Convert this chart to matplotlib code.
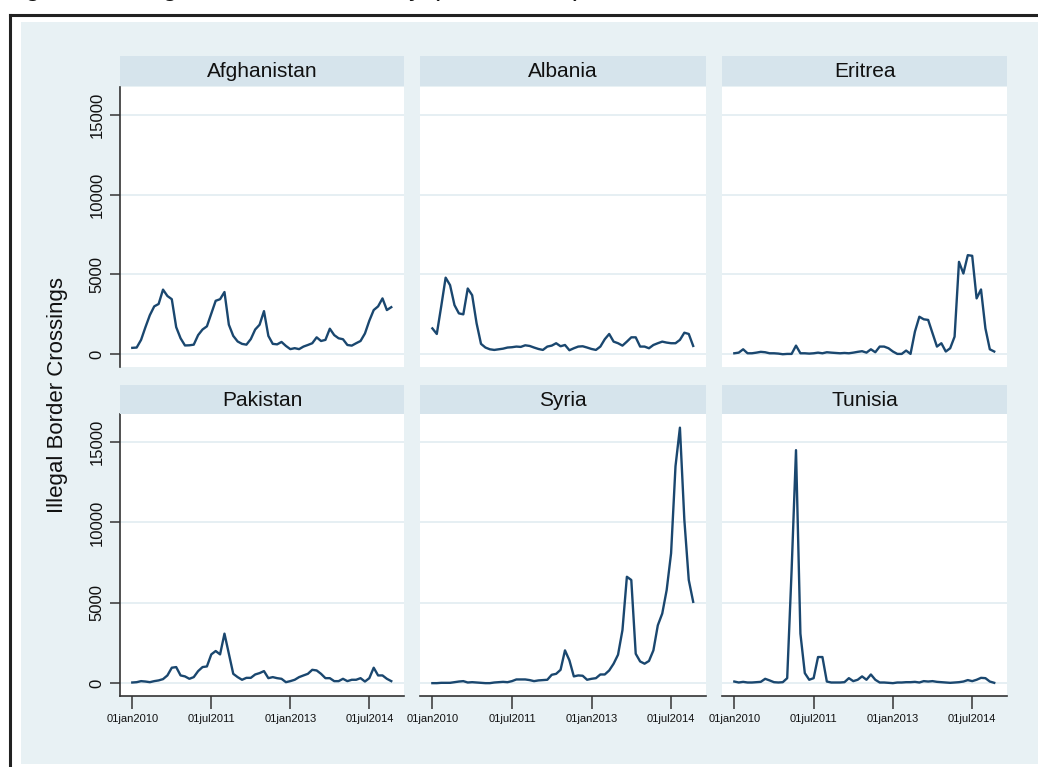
import matplotlib.pyplot as plt
from matplotlib.patches import Rectangle
from matplotlib.lines import Line2D

plt.rcParams['font.family'] = ['Liberation Sans', 'DejaVu Sans']

# monthly illegal border crossings, jan 2010 .. dec 2014
countries = ["Afghanistan", "Albania", "Eritrea", "Pakistan", "Syria", "Tunisia"]

afghanistan = [400, 420, 900, 1700, 2450, 3000, 3150, 4050, 3650, 3450,
               1700, 1000, 550, 560, 600, 1200, 1550, 1750, 2550, 3350,
               3450, 3900, 1850, 1150, 800, 650, 600, 950, 1550, 1850,
               2700, 1150, 650, 620, 770, 520, 320, 380, 320, 480,
               580, 690, 1060, 830, 900, 1600, 1200, 1000, 940, 580,
               540, 690, 830, 1300, 2100, 2770, 3000, 3500, 2770, 2950]
albania = [1620, 1270, 3000, 4800, 4330, 3080, 2560, 2500, 4120, 3700,
           1940, 650, 420, 310, 270, 310, 350, 420, 440, 480,
           460, 560, 520, 420, 330, 270, 480, 540, 690, 500,
           580, 250, 375, 480, 500, 420, 330, 270, 480, 940,
           1270, 790, 690, 540, 790, 1060, 1060, 480, 480, 375,
           580, 690, 790, 730, 690, 690, 900, 1350, 1270, 520]
eritrea = [60, 100, 310, 60, 60, 100, 150, 125, 60, 60,
           40, 0, 20, 20, 540, 60, 60, 40, 60, 100,
           60, 125, 100, 80, 60, 80, 60, 100, 150, 190,
           100, 310, 125, 480, 480, 375, 170, 20, 20, 230,
           20, 1420, 2350, 2190, 2150, 1310, 480, 690, 170, 375,
           1100, 5790, 5060, 6210, 6170, 3500, 4060, 1620, 310, 170]
pakistan = [40, 60, 125, 100, 60, 125, 170, 250, 480, 960,
            1000, 480, 420, 270, 375, 750, 1000, 1040, 1790, 2000,
            1790, 3080, 1830, 580, 375, 210, 330, 330, 540, 625,
            750, 310, 375, 310, 270, 60, 125, 210, 375, 480,
            580, 830, 790, 580, 310, 310, 125, 125, 270, 125,
            210, 210, 310, 100, 310, 960, 480, 480, 270, 125]
syria = [0, 0, 20, 20, 20, 60, 100, 125, 40, 60,
         40, 20, 0, 0, 40, 60, 80, 60, 125, 230,
         230, 230, 190, 125, 170, 190, 210, 520, 580, 830,
         2040, 1420, 420, 480, 460, 210, 270, 310, 540, 540,
         790, 1210, 1770, 3300, 6620, 6420, 1830, 1350, 1210, 1380,
         2040, 3600, 4330, 5790, 8080, 13500, 15900, 10170, 6420, 5060]
tunisia = [100, 40, 80, 40, 40, 60, 80, 270, 170, 60,
           40, 60, 310, 7000, 14500, 3080, 625, 210, 310, 1625,
           1625, 100, 40, 40, 40, 60, 310, 125, 210, 420,
           210, 540, 210, 40, 40, 20, 0, 40, 40, 60,
           60, 80, 40, 125, 100, 125, 80, 60, 40, 20,
           40, 60, 100, 190, 125, 210, 330, 310, 100, 20]

series = [afghanistan, albania, eritrea, pakistan, syria, tunisia]
months = list(range(len(afghanistan)))

tick_months = [0, 18, 36, 54]
tick_labels = ["01jan2010", "01jul2011", "01jan2013", "01jul2014"]
y_ticks = [0, 5000, 10000, 15000]

W, H = 1038, 767
BG = '#e8f1f4'
STRIP = '#d6e4ec'
GRID = '#e2ecf1'
LINE = '#1a476f'

fig = plt.figure(figsize=(W / 100, H / 100), dpi=100)
fig.patch.set_facecolor('white')


def box(x0, y0, x1, y1):
    # pixel box (top-left origin) -> figure fraction rect
    return [x0 / W, 1 - y1 / H, (x1 - x0) / W, (y1 - y0) / H]


# light blue graph region + black frame (cropped page)
r = box(21, 22, W, 764)
fig.add_artist(Rectangle((r[0], r[1]), r[2], r[3], transform=fig.transFigure,
                         facecolor=BG, edgecolor='none', zorder=0))
fig.add_artist(Line2D([10 / W, 10 / W], [0, 1 - 15 / H], transform=fig.transFigure,
                      color='#222222', lw=2.2))
fig.add_artist(Line2D([10 / W, 1], [1 - 15 / H, 1 - 15 / H], transform=fig.transFigure,
                      color='#222222', lw=2.2))

# caption of the page, cropped: only the lowest part shows at the top edge
fig.text(2 / W, 1 + 5 / H, "Figure 2   Illegal Entries, Quarterly (2010-2014)",
         fontsize=20, va='baseline', ha='left', color='#111111')

cols = [(120, 404), (420, 706), (722, 1007)]
rows = [(87, 367), (414, 696)]
strips = [(56, 86), (385, 414)]

for i, (name, vals) in enumerate(zip(countries, series)):
    ri, ci = divmod(i, 3)
    x0, x1 = cols[ci]
    y0, y1 = rows[ri]
    ax = fig.add_axes(box(x0, y0, x1, y1))
    ax.set_facecolor('white')

    # header strip
    s = box(x0, strips[ri][0], x1, strips[ri][1])
    fig.add_artist(Rectangle((s[0], s[1]), s[2], s[3], transform=fig.transFigure,
                             facecolor=STRIP, edgecolor='none', zorder=1))
    fig.text(s[0] + s[2] / 2, s[1] + s[3] / 2 - 1 / H, name, ha='center', va='center',
             fontsize=15, color='#111111')

    for yt in y_ticks:
        ax.axhline(yt, color=GRID, lw=1.2, zorder=1)
    ax.plot(months, vals, color=LINE, lw=1.7, zorder=3)

    ax.set_xlim(-2.8, 61.9)
    ax.set_ylim(-800, 16750)

    for sp in ax.spines.values():
        sp.set_visible(False)

    if ci == 0:
        ax.spines['left'].set_visible(True)
        ax.spines['left'].set_color('#333333')
        ax.spines['left'].set_linewidth(1.2)
        ax.set_yticks(y_ticks)
        ax.set_yticklabels([str(v) for v in y_ticks], rotation=90, va='center',
                           fontsize=12, color='#111111')
        ax.tick_params(axis='y', length=7, width=1.1, color='#333333', pad=4)
    else:
        ax.set_yticks([])

    if ri == 1:
        ax.spines['bottom'].set_visible(True)
        ax.spines['bottom'].set_color('#333333')
        ax.spines['bottom'].set_linewidth(1.2)
        ax.set_xticks(tick_months)
        ax.set_xticklabels(tick_labels, fontsize=8, color='#111111')
        ax.tick_params(axis='x', length=9, width=1.1, color='#333333', pad=4)
    else:
        ax.set_xticks([])

fig.text(57 / W, 1 - 395 / H, "Illegal Border Crossings", rotation=90,
         ha='center', va='center', fontsize=16, color='#111111')

fig.savefig('out.png', dpi=100, facecolor=fig.get_facecolor())
